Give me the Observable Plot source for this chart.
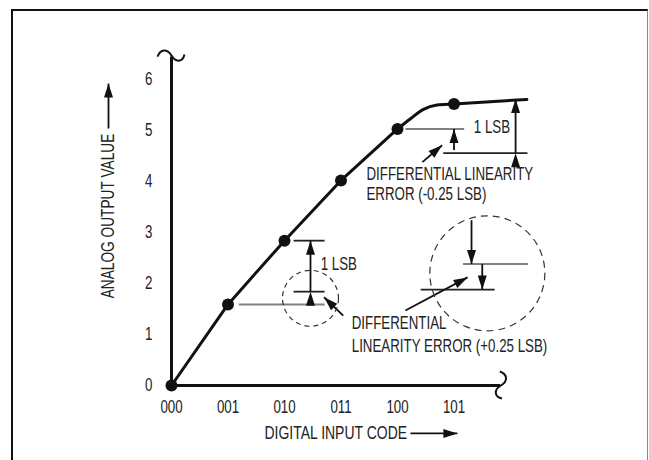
<!DOCTYPE html>
<html><head><meta charset="utf-8">
<script src="https://cdn.jsdelivr.net/npm/d3@7"></script>
<script src="https://cdn.jsdelivr.net/npm/@observablehq/plot@0.6"></script>
<style>
body{margin:0;background:#fff;}
#wrap{position:relative;width:649px;height:460px;overflow:hidden;background:#fff;}
#wrap svg{position:absolute;left:0;top:0;}
#frame{position:absolute;left:11px;top:9px;width:637px;height:520px;box-sizing:border-box;border-left:2.5px solid #111;border-top:2.5px solid #111;border-right:1.5px solid #888;}
</style></head>
<body><div id="wrap"><div id="frame"></div></div>
<script>
// ---- data ----
const codes = ["000", "001", "010", "011", "100", "101"];
const outputs = [0, 1.59, 2.84, 4.02, 5.03, 5.52];
// saturating bend after code 100 and the tail past 101
const bendX = [4, 4.23, 4.45, 4.7, 5, 6.29];
const bendY = [5.03, 5.23, 5.41, 5.5, 5.52, 5.61];
const yTicks = [0, 1, 2, 3, 4, 5, 6];
const xAxisEnd = 5.79, yAxisEnd = 6.42;

// annotation reference lines [x1, x2, y]
const grayRefs = [[1.19, 2.71, 1.59], [4.14, 5.18, 5.03], [5.16, 6.31, 2.38]];
const blackRefs = [[2.16, 2.71, 2.84], [2.16, 2.71, 1.84], [4.81, 6.30, 4.555], [4.41, 5.72, 1.88]];
// arrows [x1, y1, x2, y2] (head at x2,y2)
const singleArrows = [
  [3.04, 1.37, 2.70, 1.73],
  [5.00, 4.62, 5.00, 5.03],
  [4.44, 4.38, 4.79, 4.71],
  [5.31, 3.24, 5.31, 2.38],
  [5.50, 2.38, 5.50, 1.88],
  [4.14, 1.47, 5.24, 2.12]
];
const doubleArrows = [[2.46, 1.84, 2.46, 2.84], [6.09, 4.555, 6.09, 5.62]];
// dashed magnifier circles [x, y]
const smallCircle = [[2.46, 1.71]];
const bigCircle = [[5.59, 2.2]];
// annotation text [x, y, text]
const notes = [
  [2.64, 2.39, "1 LSB"],
  [5.35, 5.06, "1 LSB"],
  [3.45, 4.15, "DIFFERENTIAL LINEARITY"],
  [3.45, 3.75, "ERROR (-0.25 LSB)"],
  [3.19, 1.22, "DIFFERENTIAL"],
  [3.19, 0.78, "LINEARITY ERROR (+0.25 LSB)"]
];
const yTitle = "ANALOG OUTPUT VALUE";
const xTitle = "DIGITAL INPUT CODE";
const yTitlePos = [-1.115, 1.71], yTitleArrow = [-1.115, 5.04, -1.115, 5.92];
const xTitlePos = [1.646, -0.94], xTitleArrow = [4.23, -0.94, 5.06, -0.94];

const FONT = "'Liberation Sans',Arial,sans-serif";
const INK = "#111";
const FS = 18.5;
const NARROW = 0.72;          // condensed lettering
const NARROW_X_TITLE = 0.755;
const NARROW_Y_TITLE = 0.74;

const pts = outputs.map((y, i) => ({x: i, y, code: codes[i]}));
const bend = bendX.map((x, i) => ({x, y: bendY[i]}));

// tilde "break" symbol
const tilde = {draw(ctx) {
  ctx.moveTo(-14, 1);
  ctx.bezierCurveTo(-11, -7, -4, -7, 0, 0);
  ctx.bezierCurveTo(4, 7, 11, 7, 13, -1);
}};

const chart = Plot.plot({
  width: 649, height: 460,
  marginLeft: 171, marginRight: 649 - 171 - 6.3 * 56.5,
  marginTop: 79, marginBottom: 75,
  x: {domain: [0, 6.3], axis: null},
  y: {domain: [0, 6], axis: null},
  style: {fontFamily: FONT, background: "transparent", overflow: "visible"},
  marks: [
    // axes
    Plot.link([[0, 0, 0, yAxisEnd], [0, 0, xAxisEnd, 0]], {x1: d => d[0], y1: d => d[1], x2: d => d[2], y2: d => d[3], stroke: INK, strokeWidth: 3, strokeLinecap: "square"}),
    Plot.dot([[0, yAxisEnd + 0.05]], {x: d => d[0], y: d => d[1], symbol: tilde, fill: "none", stroke: INK, strokeWidth: 2}),
    Plot.dot([[xAxisEnd + 0.04, 0]], {x: d => d[0], y: d => d[1], symbol: tilde, rotate: 90, fill: "none", stroke: INK, strokeWidth: 2}),
    // ticks
    Plot.text(codes, {x: (d, i) => i, y: 0, text: d => d, dy: 22, fontSize: FS, fill: "#222"}),
    Plot.text(yTicks, {x: 0, y: d => d, text: d => String(d), dx: -19, textAnchor: "end", fontSize: FS, fill: "#222"}),
    // annotations
    Plot.link(grayRefs, {x1: d => d[0], x2: d => d[1], y1: d => d[2], y2: d => d[2], stroke: "#808080", strokeWidth: 2}),
    Plot.link(blackRefs, {x1: d => d[0], x2: d => d[1], y1: d => d[2], y2: d => d[2], stroke: "#222", strokeWidth: 1.8}),
    Plot.link(singleArrows, {x1: d => d[0], y1: d => d[1], x2: d => d[2], y2: d => d[3], stroke: INK, strokeWidth: 1.8, markerEnd: "arrow"}),
    Plot.link(doubleArrows, {x1: d => d[0], y1: d => d[1], x2: d => d[2], y2: d => d[3], stroke: INK, strokeWidth: 1.8, markerStart: "arrow", markerEnd: "arrow"}),
    Plot.dot(smallCircle, {x: d => d[0], y: d => d[1], r: 28, fill: "none", stroke: "#333", strokeWidth: 1.2, strokeDasharray: "5,4"}),
    Plot.dot(bigCircle, {x: d => d[0], y: d => d[1], r: 57.5, fill: "none", stroke: "#333", strokeWidth: 1.2, strokeDasharray: "7,5"}),
    Plot.text(notes, {x: d => d[0], y: d => d[1], text: d => d[2], textAnchor: "start", fontSize: FS, fill: "#222"}),
    // transfer curve: straight through codes 000..100, then the saturating bend
    Plot.line(pts, {x: "x", y: "y", filter: d => d.x <= 4, stroke: INK, strokeWidth: 3}),
    Plot.line(bend, {x: "x", y: "y", curve: "monotone-x", stroke: INK, strokeWidth: 3}),
    Plot.dot(pts, {x: "x", y: "y", r: 6, fill: INK}),
    // axis titles with arrows
    Plot.text([yTitlePos], {x: d => d[0], y: d => d[1], text: [yTitle], rotate: -90, textAnchor: "start", fontSize: FS, fill: "#222"}),
    Plot.link([yTitleArrow], {x1: d => d[0], y1: d => d[1], x2: d => d[2], y2: d => d[3], stroke: INK, strokeWidth: 1.8, markerEnd: "arrow"}),
    Plot.text([xTitlePos], {x: d => d[0], y: d => d[1], text: [xTitle], textAnchor: "start", fontSize: FS, fill: "#222"}),
    Plot.link([xTitleArrow], {x1: d => d[0], y1: d => d[1], x2: d => d[2], y2: d => d[3], stroke: INK, strokeWidth: 1.8, markerEnd: "arrow"})
  ]
});

// filled, narrow arrowheads
d3.select(chart).selectAll("marker").each(function() {
  const m = d3.select(this);
  m.attr("viewBox", "-15 -6 16 12").attr("markerWidth", 16).attr("markerHeight", 12)
   .attr("markerUnits", "userSpaceOnUse").attr("refX", 0).attr("refY", 0)
   .attr("fill", INK).attr("stroke", "none");
  m.selectAll("*").remove();
  m.append("path").attr("d", "M0,0L-14,-4.5L-14,4.5Z");
});

document.getElementById("wrap").appendChild(chart);

// condense the lettering like the reference's narrow typeface
d3.select(chart).selectAll("text").each(function() {
  const w = this.getComputedTextLength();
  if (w > 0) {
    const t = this.textContent;
    const k = t === yTitle ? NARROW_Y_TITLE : t === xTitle ? NARROW_X_TITLE : NARROW;
    this.setAttribute("textLength", (w * k).toFixed(2));
    this.setAttribute("lengthAdjust", "spacingAndGlyphs");
  }
});
</script>
</body></html>
